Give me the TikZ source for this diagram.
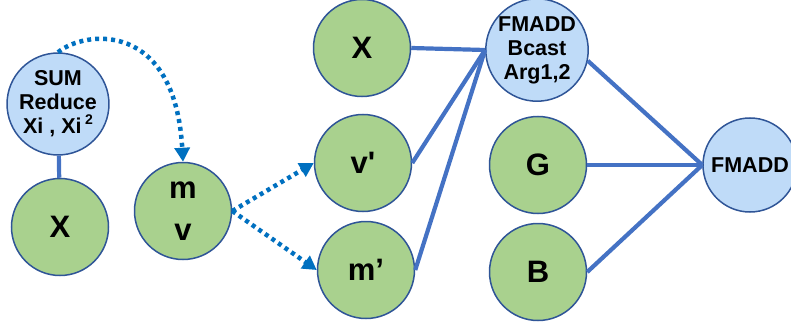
\documentclass[tikz,border=0pt]{standalone}
\usepackage{fontspec}
\setmainfont{Liberation Sans}
\usetikzlibrary{arrows.meta}
\definecolor{opgreen}{HTML}{A9D18E}
\definecolor{opblue}{HTML}{BFDBF8}
\definecolor{rim}{HTML}{2F5597}
\definecolor{wire}{HTML}{4472C4}
\definecolor{flow}{HTML}{0070C0}
\tikzset{
  x=1pt, y=-1pt,
  data/.style={circle, draw=rim, line width=1.5pt, fill=opgreen, minimum size=97pt,
    inner sep=0pt, align=center, font=\fontsize{31}{42}\selectfont\bfseries},
  op/.style={circle, draw=rim, line width=1.5pt, fill=opblue, minimum size=97pt,
    inner sep=0pt, align=center, font=\fontsize{21.5}{24}\selectfont\bfseries},
  wirel/.style={draw=wire, line width=4.2pt},
  flowl/.style={draw=flow, line width=4.5pt, dash pattern=on 4pt off 4pt,
    -{Triangle[length=14pt,width=15pt]}},
}
% raised exponent, a little larger than the default superscript
\newcommand{\sqexp}{\,\raisebox{0.42em}{\fontsize{14}{14}\selectfont 2}}
\begin{document}
\begin{tikzpicture}
\useasboundingbox (0,0) rectangle (791,326);
% reduction and its input
\node[op] (sum) at (58,104) {SUM\\Reduce\\Xi , Xi\sqexp};
\node[data] (x1) at (60,227) {X};
\node[data] (mv) at (183,211) {m\\v};
% updated moments
\node[data] (vp) at (363,163) {v\textquotesingle};
\node[data] (mp) at (366,270) {m’};
\node[data] (x2) at (362,48) {X};
% fused multiply-adds
\node[op] (fb) at (537,50) {FMADD\\Bcast\\Arg1,2};
\node[data] (g) at (538,165) {G};
\node[data] (b) at (538,272) {B};
\node[op, minimum size=94pt] (fm) at (750,165) {FMADD};
% connections
\draw[wirel] (sum) -- (x1);
\draw[flowl] (sum.north) .. controls (85,30) and (175,20) .. (mv.north);
\draw[flowl] (mv.east) -- (vp.west);
\draw[flowl] (mv.east) -- (mp.west);
\draw[wirel] (x2.east) -- (fb.west);
\draw[wirel] (vp.east) -- (fb.west);
\draw[wirel] (mp.east) -- (fb.west);
\draw[wirel] (fb.-12) -- (fm.west);
\draw[wirel] (g.east) -- (fm.west);
\draw[wirel] (b.east) -- (fm.west);
\end{tikzpicture}
\end{document}
